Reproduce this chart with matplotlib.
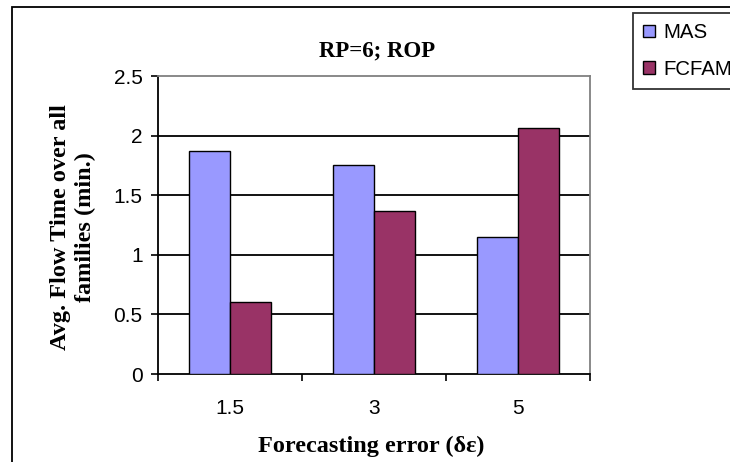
import matplotlib
matplotlib.use("Agg")
import matplotlib.pyplot as plt
from matplotlib.patches import Rectangle
import numpy as np

categories = ["1.5", "3", "5"]
series_names = ["MAS", "FCFAM"]
mas = [1.87, 1.75, 1.15]
fcfam = [0.60, 1.37, 2.06]
yticks = [0, 0.5, 1, 1.5, 2, 2.5]
ytick_labels = ["0", "0.5", "1", "1.5", "2", "2.5"]

W, H = 730, 462
fig = plt.figure(figsize=(W / 100, H / 100), dpi=100)
fig.patch.set_facecolor("white")

# outer chart border
fig.add_artist(Rectangle((12 / W, -0.1), 2.0, 1.1 - 7 / H, transform=fig.transFigure,
                         fill=False, edgecolor="black", linewidth=1.3))

ax = fig.add_axes([158 / W, 1 - 374 / H, (590 - 158) / W, (374 - 76) / H])
x = np.arange(len(categories))
bw = 0.288
ax.bar(x - bw / 2, mas, bw, color="#9999FF", edgecolor="black", linewidth=1.0,
       label=series_names[0], zorder=3)
ax.bar(x + bw / 2, fcfam, bw, color="#993366", edgecolor="black", linewidth=1.0,
       label=series_names[1], zorder=3)

ax.set_xlim(-0.5, len(categories) - 0.5)
ax.set_ylim(0, 2.5)
ax.set_yticks(yticks)
ax.set_yticklabels(ytick_labels, fontsize=15, family="Liberation Sans")
ax.set_xticks(x)
ax.set_xticklabels(categories, fontsize=15, family="Liberation Sans")
ax.set_xticks(np.arange(-0.5, len(categories), 1.0), minor=True)
ax.tick_params(axis="x", which="major", length=0, pad=18)
ax.tick_params(axis="x", which="minor", length=5, width=1.2, direction="out")
ax.tick_params(axis="y", which="major", length=5, width=1.2, direction="out", pad=6)

for yv in yticks[1:-1]:
    ax.axhline(yv, color="black", linewidth=1.3, zorder=1)

for s in ["top", "right"]:
    ax.spines[s].set_color("#808080")
    ax.spines[s].set_linewidth(1.3)
for s in ["left", "bottom"]:
    ax.spines[s].set_color("black")
    ax.spines[s].set_linewidth(1.3)

fig.text(377 / W, 1 - 51 / H, "RP=6; ROP", ha="center", va="center",
         fontsize=16.5, fontweight="bold", family="Liberation Serif")
fig.text(73 / W, 1 - 227 / H, "Avg. Flow Time over all\nfamilies (min.)", ha="center",
         va="center", rotation=90, fontsize=17.5, fontweight="bold",
         family="Liberation Serif", linespacing=1.2)
fig.text(371 / W, 1 - 446 / H, "Forecasting error (δε)", ha="center", va="center",
         fontsize=17.5, fontweight="bold", family="Liberation Serif")

leg = fig.legend(loc="upper left", bbox_to_anchor=(633 / W, 1 - 13 / H),
                 prop={"family": "Liberation Sans", "size": 14.7},
                 frameon=True, fancybox=False, handlelength=0.6, handleheight=0.6,
                 handletextpad=0.4, labelspacing=0.85, borderpad=0.5,
                 borderaxespad=0)
leg.get_frame().set_edgecolor("black")
leg.get_frame().set_linewidth(1.3)

fig.savefig("out.png", dpi=100)
